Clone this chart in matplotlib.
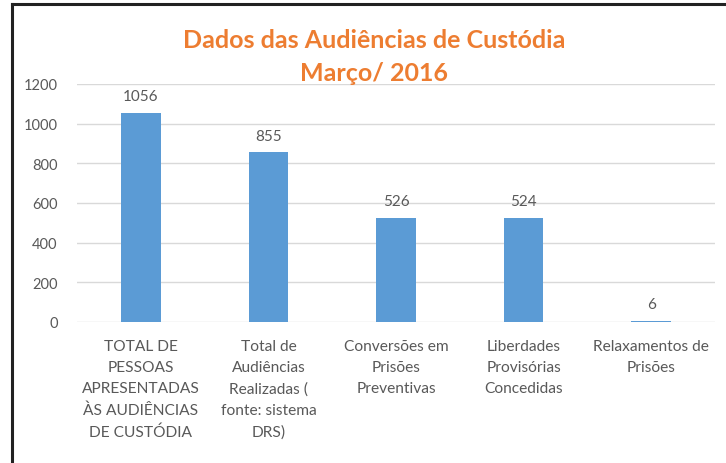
import matplotlib.pyplot as plt
from matplotlib.lines import Line2D

#chart data
categorias=['TOTAL DE\nPESSOAS\nAPRESENTADAS\nÀS AUDIÊNCIAS\nDE CUSTÓDIA',
            'Total de\nAudiências\nRealizadas (\nfonte: sistema\nDRS)',
            'Conversões em\nPrisões\nPreventivas',
            'Liberdades\nProvisórias\nConcedidas',
            'Relaxamentos de\nPrisões']
valores=[1056,855,526,524,6]
yticks=[0,200,400,600,800,1000,1200]
titulo='Dados das Audiências de Custódia\nMarço/ 2016'

plt.rcParams['font.family']=['Lato','DejaVu Sans']
grey='#595959'

fig=plt.figure(figsize=(7.26,4.64),dpi=100)
ax=fig.add_axes([77/726,1-323/464,(715-77)/726,(323-85)/464])

xpos=list(range(len(valores)))
ax.bar(xpos,valores,width=0.31,color='#5B9BD5',zorder=3)

#data labels
for xx,vv in zip(xpos,valores):
    ax.annotate('{}'.format(vv),(xx,vv),xytext=(0,7),textcoords='offset points',
                ha='center',va='bottom',fontsize=11,color=grey)

ax.set_xlim(-0.5,len(valores)-0.5)
ax.set_ylim(0,1200)
ax.set_yticks(yticks)
ax.set_xticks(xpos)
ax.set_xticklabels(categorias,fontsize=11.2,color=grey,linespacing=1.66,va='top')
ax.tick_params(axis='y',length=0,pad=14,labelsize=10.5,labelcolor=grey)
ax.tick_params(axis='x',length=0,pad=12)
ax.grid(axis='y',color='#D9D9D9',linewidth=1,zorder=0)
for side in ['top','right','left','bottom']:
    ax.spines[side].set_visible(False)

fig.text(374/726,1-57/464,titulo,ha='center',va='center',fontsize=18,
         fontweight='bold',color='#ED7D31',linespacing=1.5)

#frame lines from the document page
fig.add_artist(Line2D([12/726,1],[1-5/464,1-5/464],color='#222222',linewidth=2.2))
fig.add_artist(Line2D([12/726,12/726],[0,1-5/464],color='#222222',linewidth=2.2))

fig.savefig('out.png',dpi=100)
